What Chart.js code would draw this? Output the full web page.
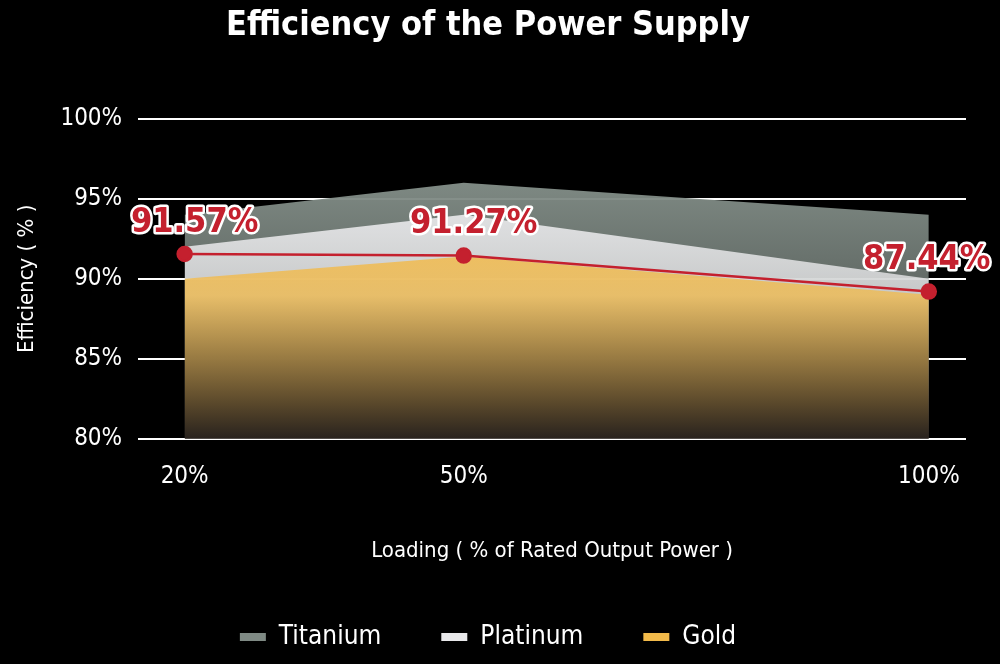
<!DOCTYPE html>
<html>
<head>
<meta charset="utf-8">
<script src="https://cdn.jsdelivr.net/npm/chart.js@4"></script>
<style>
  body { margin: 0; background: #000; }
  #wrap { width: 1000px; height: 664px; }
</style>
</head>
<body>
<div id="wrap"><canvas id="effChart"></canvas></div>
<script>
var loads = [20, 50, 100];
var titanium = [94, 96, 94];
var platinum = [92, 94, 90];
var gold = [90, 91.4, 89];
var measured = [91.55, 91.45, 89.2];
var measuredLabels = ['91.57%', '91.27%', '87.44%'];
var tickLoads = [20, 50, 100];

var FONT = "'DejaVu Sans Condensed', 'Liberation Sans Narrow', sans-serif";

function toPoints(vals) {
    return loads.map(function (x, i) { return { x: x, y: vals[i] }; });
}

function fade(color) {
    return function (context) {
        var area = context.chart.chartArea;
        if (!area) return color;
        var g = context.chart.ctx.createLinearGradient(0, area.top + 60, 0, area.bottom);
        g.addColorStop(0, color);
        g.addColorStop(0.45, color.replace(')', ',0.75)').replace('rgb', 'rgba'));
        g.addColorStop(1, 'rgb(40,34,30)');
        return g;
    };
}

// draws the red value labels above the measured points
var valueLabels = {
    id: 'valueLabels',
    afterDatasetsDraw: function (chart) {
        var meta = chart.getDatasetMeta(3);
        var ctx = chart.ctx;
        ctx.save();
        ctx.font = 'bold 34px ' + FONT;
        ctx.textAlign = 'center';
        ctx.textBaseline = 'bottom';
        ctx.lineJoin = 'round';
        meta.data.forEach(function (pt, i) {
            var x = pt.x + 10;
            if (i === meta.data.length - 1) x = pt.x - 2;
            ctx.lineWidth = 5;
            ctx.strokeStyle = '#fff';
            ctx.strokeText(measuredLabels[i], x, pt.y - 14);
            ctx.fillStyle = '#c4202e';
            ctx.fillText(measuredLabels[i], x, pt.y - 14);
        });
        ctx.restore();
    }
};

new Chart(document.getElementById('effChart').getContext('2d'), {
    type: 'line',
    data: {
        datasets: [
            { label: 'Titanium', data: toPoints(titanium), fill: 'origin', borderWidth: 0, pointRadius: 0,
              backgroundColor: fade('rgb(127,138,132)'), borderColor: 'rgb(127,138,132)', tension: 0, order: 3 },
            { label: 'Platinum', data: toPoints(platinum), fill: 'origin', borderWidth: 0, pointRadius: 0,
              backgroundColor: fade('rgb(232,232,234)'), borderColor: 'rgb(232,232,234)', tension: 0, order: 2 },
            { label: 'Gold', data: toPoints(gold), fill: 'origin', borderWidth: 0, pointRadius: 0,
              backgroundColor: fade('rgb(242,186,74)'), borderColor: 'rgb(242,186,74)', tension: 0, order: 1 },
            { label: 'Measured', data: toPoints(measured), fill: false, borderWidth: 2.5,
              borderColor: '#c4202e', backgroundColor: '#c4202e', pointRadius: 7, pointHoverRadius: 7, order: 0 }
        ]
    },
    options: {
        responsive: true,
        maintainAspectRatio: false,
        animation: false,
        layout: { padding: { left: 10, right: 34, top: 4, bottom: 4 } },
        plugins: {
            title: { display: true, text: 'Efficiency of the Power Supply', color: '#fff',
                     font: { family: FONT, size: 34, weight: 'bold' }, padding: { top: 2, bottom: 72 } },
            legend: {
                position: 'bottom',
                labels: {
                    color: '#fff', font: { family: FONT, size: 26 }, boxWidth: 26, boxHeight: 8,
                    padding: 60,
                    filter: function (item) { return item.datasetIndex < 3; },
                    generateLabels: function (chart) {
                        return chart.data.datasets.map(function (ds, i) {
                            return { text: ds.label, fillStyle: ds.borderColor, strokeStyle: ds.borderColor,
                                     lineWidth: 0, fontColor: '#fff', datasetIndex: i, hidden: false };
                        });
                    }
                }
            },
            tooltip: { enabled: false }
        },
        scales: {
            x: {
                type: 'linear', min: 15, max: 104,
                afterBuildTicks: function (axis) { axis.ticks = tickLoads.map(function (v) { return { value: v }; }); },
                ticks: { color: '#fff', font: { family: FONT, size: 24 }, padding: 16,
                         callback: function (v) { return v + '%'; } },
                grid: { display: false },
                border: { display: false },
                title: { display: true, text: 'Loading ( % of Rated Output Power )', color: '#fff',
                         font: { family: FONT, size: 22 }, padding: { top: 30, bottom: 0 } }
            },
            y: {
                min: 80, max: 100,
                ticks: { stepSize: 5, color: '#fff', font: { family: FONT, size: 24 }, padding: 16,
                         callback: function (v) { return v + '%'; } },
                grid: { color: '#fff', lineWidth: 2, drawTicks: false },
                border: { display: false },
                title: { display: true, text: 'Efficiency ( % )', color: '#fff',
                         font: { family: FONT, size: 22 } }
            }
        }
    },
    plugins: [valueLabels]
});
</script>
</body>
</html>
